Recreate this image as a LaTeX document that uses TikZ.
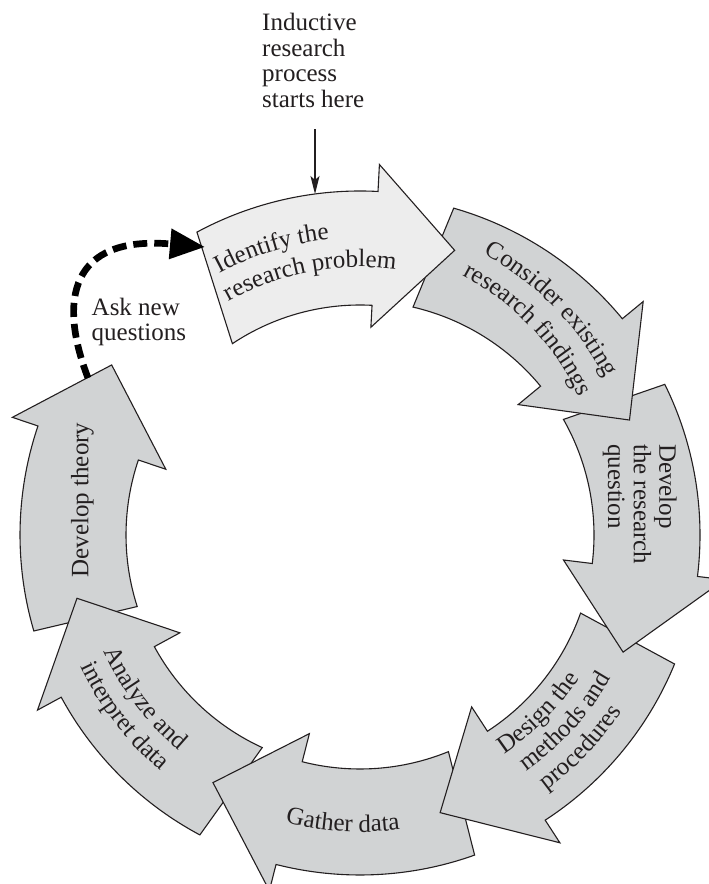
\documentclass[tikz,border=0pt]{standalone}
\usepackage{fontspec}
\setmainfont{Liberation Serif}
\usetikzlibrary{arrows.meta,decorations.text,calc}
\definecolor{lightfill}{RGB}{237,237,237}
\definecolor{midfill}{RGB}{209,211,212}
\definecolor{inkc}{RGB}{35,31,32}
\newcommand\lbl{\fontsize{25}{27}\selectfont}
% #1 fill, #2 outer r, #3 inner r, #4 tail angle outer, #5 tail angle inner,
% #6 head base angle, #7 tip angle, #8 tip radius, #9 inner barb depth
\newcommand\ringarrow[9]{%
  \filldraw[bandarrow, fill=#1] ({#4}:{#2}) arc[start angle={#4}, end angle={#6}, radius={#2}]
   -- ({#6}:{#2+27}) -- ({#7}:{#8}) -- ({#6}:{#3-#9}) -- ({#6}:{#3})
   arc[start angle={#6}, end angle={#5}, radius={#3}] -- cycle;}
\begin{document}
\begin{tikzpicture}[x=1pt,y=1pt,
  bandarrow/.style={draw=inkc, line width=1.1pt, line join=miter},
  plainlabel/.style={inner sep=0pt, text=inkc, align=left},
  thinarrow/.style={draw=inkc, line width=1.1pt, -{Stealth[length=18pt,width=9pt,inset=4pt]}},
  dashedarrow/.style={draw=black, line width=6.7pt, dash pattern=on 14pt off 7pt, -{Triangle[length=35pt,width=29pt]}}]
\useasboundingbox (0,0) rectangle (709,884);
\fill[white] (0,0) rectangle (709,884);

\begin{scope}[shift={(360,349)}]
 \ringarrow{midfill}{340}{234}{196.4}{197.8}{161.3}{145.6}{301}{29}   % develop theory
 \ringarrow{midfill}{340}{234}{-118.1}{-114.7}{-151.5}{-167.4}{290}{29} % analyze
 \ringarrow{midfill}{340}{234}{-70.3}{-67.8}{-104.3}{-120.7}{288}{29}  % gather
 \ringarrow{midfill}{340}{234}{-22.3}{-19.5}{-57}{-73.9}{289}{29}      % design
 \ringarrow{midfill}{340}{234}{26.3}{29.6}{-7}{-24}{288}{29}           % research question
 \ringarrow{midfill}{340}{234}{74}{76.9}{39.5}{23.1}{293}{29}          % consider
 \ringarrow{lightfill}{344}{230}{118.3}{123.7}{87}{71.6}{300}{22}      % identify

 % Identify the research problem
 \path[decorate, decoration={text along path, text={|\lbl|Identify the}, text align=left, text color=inkc}]
   (118.3:297) arc[start angle=118.3, end angle=50, radius=297];
 \path[decorate, decoration={text along path, text={|\lbl|research problem}, text align=left, text color=inkc}]
   (119.3:268) arc[start angle=119.3, end angle=50, radius=268];
 % Consider existing research findings
 \path[decorate, decoration={text along path, text={|\lbl|Consider existing}, text align=left, text color=inkc}]
   plot[domain=66.2:10, samples=80] (\x:{307-0.47*(66.2-\x)});
 \path[decorate, decoration={text along path, text={|\lbl|research findings}, text align=left, text color=inkc}]
   plot[domain=68.5:10, samples=80] (\x:{279-0.55*(68.5-\x)});
 % Design the methods and procedures
 \path[decorate, decoration={text along path, text={|\lbl|Design the}, text align=center, text color=inkc}]
   (-69.9:262) arc[start angle=-69.9, end angle=-19.9, radius=262];
 \path[decorate, decoration={text along path, text={|\lbl|methods and}, text align=center, text color=inkc}]
   (-67.3:289) arc[start angle=-67.3, end angle=-17.3, radius=289];
 \path[decorate, decoration={text along path, text={|\lbl|procedures}, text align=center, text color=inkc}]
   (-68.9:316) arc[start angle=-68.9, end angle=-18.9, radius=316];
 % Gather data
 \path[decorate, decoration={text along path, text={|\lbl|Gather data}, text align=center, text color=inkc}]
   (-123.4:297) arc[start angle=-123.4, end angle=-63.4, radius=297];
 % Analyze and interpret data
 \path[decorate, decoration={text along path, text={|\lbl|Analyze and}, text align=center, text color=inkc}]
   (-172.9:281.7) arc[start angle=-172.9, end angle=-112.9, radius=281.7];
 \path[decorate, decoration={text along path, text={|\lbl|interpret data}, text align=center, text color=inkc}]
   (-172.5:309) arc[start angle=-172.5, end angle=-112.5, radius=309];
\end{scope}

% straight labels
\node[plainlabel, rotate=-90, anchor=north west, font=\fontsize{25}{25.7}\selectfont] (rq) at (677,440)
  {Develop\\the research\\question};
\node[plainlabel, rotate=90, anchor=base, font=\fontsize{25}{25.7}\selectfont] (th) at (88.3,384) {Develop theory};
\node[plainlabel, anchor=north west, font=\fontsize{25}{25.5}\selectfont] (ind) at (262,871)
  {Inductive\\research\\process\\starts here};
\node[plainlabel, anchor=north west, font=\fontsize{25}{25.3}\selectfont] (ask) at (91.5,586)
  {Ask new\\questions};

% connectors
\coordinate (idtop) at (315,690);
\draw[thinarrow] ([yshift=-22pt]ind.south -| idtop) -- (idtop);
\coordinate (dstart) at (88,506);
\coordinate (dend) at (205,637);
\draw[dashedarrow] (dstart) .. controls (58,584) and (70,649) .. (dend);
\end{tikzpicture}
\end{document}
